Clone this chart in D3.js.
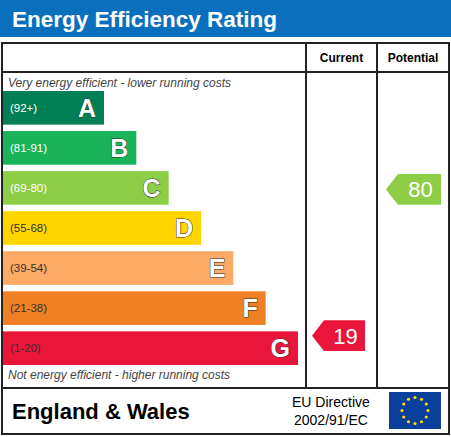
<!DOCTYPE html>
<html><head><meta charset="utf-8">
<script src="https://cdn.jsdelivr.net/npm/d3@7"></script>
<style>body{margin:0;background:#fff}svg{display:block}</style>
</head><body><svg id="c" width="451" height="437"></svg>
<script>
const bands = ["A","B","C","D","E","F","G"];
const ranges = ["(92+)","(81-91)","(69-80)","(55-68)","(39-54)","(21-38)","(1-20)"];
const colors = ["#008054","#19b459","#8dce46","#ffd500","#fcaa65","#ef8023","#e9153b"];
const currentValue = 19, potentialValue = 80;
const bandMins = [92,81,69,55,39,21,1];

const svg = d3.select("#c");
const F = "Liberation Sans, Arial, sans-serif";
svg.append("rect").attr("x",0).attr("y",0).attr("width",451).attr("height",37).attr("fill","#0a6fbd");
svg.append("text").attr("x",12).attr("y",27).attr("font-family",F).attr("font-weight","bold").attr("font-size",22.5).attr("fill","#fff").text("Energy Efficiency Rating");

const L=2,R=449,T=43,B=434, c1=306,c2=377, hy=72, fy=388;
const g=svg.append("g").attr("stroke","#222").attr("stroke-width",2).attr("fill","none");
g.append("rect").attr("x",L).attr("y",T).attr("width",R-L).attr("height",B-T);
g.append("line").attr("x1",L).attr("x2",R).attr("y1",hy).attr("y2",hy);
g.append("line").attr("x1",L).attr("x2",R).attr("y1",fy).attr("y2",fy);
[c1,c2].forEach(x=>g.append("line").attr("x1",x).attr("x2",x).attr("y1",T).attr("y2",fy));
svg.append("text").attr("x",(c1+c2)/2).attr("y",62).attr("text-anchor","middle").attr("font-family",F).attr("font-weight","bold").attr("font-size",12).text("Current");
svg.append("text").attr("x",(c2+R)/2).attr("y",62).attr("text-anchor","middle").attr("font-family",F).attr("font-weight","bold").attr("font-size",12).text("Potential");
svg.append("text").attr("x",8).attr("y",87).attr("font-family",F).attr("font-style","italic").attr("font-size",12).attr("fill","#444").text("Very energy efficient - lower running costs");
svg.append("text").attr("x",8).attr("y",379).attr("font-family",F).attr("font-style","italic").attr("font-size",12).attr("fill","#444").text("Not energy efficient - higher running costs");

const y=d3.scaleBand().domain(bands).range([91,365]).paddingInner(0.16).paddingOuter(0);
const w=d3.scaleLinear().domain([0,6]).range([104,298]);
const rows=svg.selectAll(".b").data(bands).enter().append("g");
rows.append("rect").attr("x",3).attr("y",d=>y(d)).attr("height",y.bandwidth()).attr("width",(d,i)=>w(i)-3).attr("fill",(d,i)=>colors[i]);
rows.append("text").attr("x",10).attr("y",d=>y(d)+y.bandwidth()/2+4).attr("font-family",F).attr("font-size",11.5).attr("fill",(d,i)=>i<3?"#fff":"#333").text((d,i)=>ranges[i]);
rows.append("text").attr("x",(d,i)=>w(i)-8).attr("y",d=>y(d)+y.bandwidth()/2+9).attr("text-anchor","end").attr("font-family",F).attr("font-weight","bold").attr("font-size",25).attr("fill","#fff").attr("stroke","#333").attr("stroke-width",1).attr("paint-order","stroke").text(d=>d);

function bandOf(v){return bandMins.findIndex(m=>v>=m);}
function arrow(v,x0,x1,dy){
  const i=bandOf(v), yy=y(bands[i])+dy, h=y.bandwidth()-3, t=12;
  svg.append("path").attr("d",`M${x0},${yy+h/2}L${x0+t},${yy}H${x1}V${yy+h}H${x0+t}Z`).attr("fill",colors[i]);
  svg.append("text").attr("x",(x0+t+x1)/2+1).attr("y",yy+h/2+8).attr("text-anchor","middle").attr("font-family",F).attr("font-size",22).attr("fill","#fff").text(v);
}
arrow(currentValue,312,365,-11);
arrow(potentialValue,386,441,3);

svg.append("text").attr("x",12).attr("y",419).attr("font-family",F).attr("font-weight","bold").attr("font-size",22).text("England & Wales");
svg.append("text").attr("x",292).attr("y",407).attr("font-family",F).attr("font-size",14).text("EU Directive");
svg.append("text").attr("x",294).attr("y",425).attr("font-family",F).attr("font-size",14).text("2002/91/EC");
svg.append("rect").attr("x",389).attr("y",392).attr("width",52).attr("height",37).attr("fill","#0a3f9c");
const stars=d3.range(12).map(k=>k*Math.PI/6);
svg.selectAll(".s").data(stars).enter().append("circle").attr("cx",a=>415+13*Math.cos(a)).attr("cy",a=>410.5+13*Math.sin(a)).attr("r",1.6).attr("fill","#ffdd00");
</script></body></html>
